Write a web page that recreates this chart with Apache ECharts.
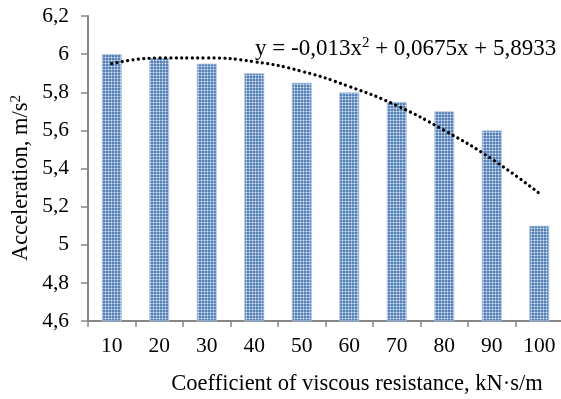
<!DOCTYPE html>
<html><head><meta charset="utf-8">
<script src="https://cdn.jsdelivr.net/npm/echarts@6/dist/echarts.min.js"></script>
<style>html,body{margin:0;padding:0;background:#fff}#c{width:561px;height:399px}</style>
</head><body><div id="c"></div>
<script>
const categories = ['10','20','30','40','50','60','70','80','90','100'];
const accel = [6.0, 5.98, 5.95, 5.9, 5.85, 5.8, 5.75, 5.7, 5.6, 5.1];
const trend = [5.95, 5.98, 5.98, 5.96, 5.91, 5.83, 5.73, 5.60, 5.45, 5.27];
const yTicks = [4.6, 6.2, 0.2];

function makePattern(){
  const c = document.createElement('canvas'); c.width = 3; c.height = 3;
  const g = c.getContext('2d');
  g.fillStyle = '#5a84b8'; g.fillRect(0,0,3,3);
  g.fillStyle = '#8eadd5'; g.fillRect(0,0,3,1); g.fillRect(0,0,1,3);
  g.fillStyle = '#e2eaf5'; g.fillRect(0,0,1,1);
  return c;
}
const font = '"Liberation Serif", "Times New Roman", serif';
const chart = echarts.init(document.getElementById('c'), null, {renderer:'canvas'});
chart.setOption({
  animation:false,
  backgroundColor:'#fff',
  textStyle:{fontFamily:font},
  grid:{left:88, top:16, width:475, height:305, containLabel:false, outerBoundsMode:'none'},
  xAxis:{
    type:'category', data:categories,
    axisLine:{lineStyle:{color:'#868686', width:2}},
    axisTick:{show:true, length:6, lineStyle:{color:'#868686', width:1.5}},
    axisLabel:{color:'#000', fontSize:21.5, fontFamily:font, margin:14}
  },
  yAxis:{
    type:'value', min:yTicks[0], max:yTicks[1], interval:yTicks[2],
    axisLine:{show:true, lineStyle:{color:'#868686', width:2}},
    axisTick:{show:true, length:7, lineStyle:{color:'#868686', width:1.5}},
    splitLine:{show:false},
    axisLabel:{color:'#000', fontSize:21.5, fontFamily:font, margin:19,
      formatter:v=>String(+v.toFixed(1)).replace('.',',')}
  },
  series:[
    {type:'bar', data:accel, barWidth:20,
     itemStyle:{color:{image:makePattern(), repeat:'repeat'}, borderColor:'#b5c8e2', borderWidth:0.8}},
    {type:'line', data:trend, smooth:true, symbol:'none',
     lineStyle:{color:'#000', width:3.2, type:[0.1,5.3], cap:'round'}, z:5}
  ],
  graphic:[
    {type:'text', left:255, top:36,
     style:{text:'y = -0,013x{s|2} + 0,0675x + 5,8933', fill:'#000', fontSize:23, fontFamily:font,
       rich:{s:{fontSize:15, verticalAlign:'top', padding:[0,0,10,0], fontFamily:font, fill:'#000'}}}},
    {type:'text', x:21, y:178, rotation:Math.PI/2,
     style:{text:'Acceleration, m/s{s|2}', fill:'#000', fontSize:22.5, fontFamily:font,
       align:'center', verticalAlign:'middle',
       rich:{s:{fontSize:15, verticalAlign:'top', padding:[0,0,10,0], fontFamily:font, fill:'#000'}}}},
    {type:'text', x:357, y:384,
     style:{text:'Coefficient of viscous resistance, kN·s/m', fill:'#000', fontSize:22.5, fontFamily:font,
       align:'center', verticalAlign:'middle'}}
  ]
});
</script></body></html>
